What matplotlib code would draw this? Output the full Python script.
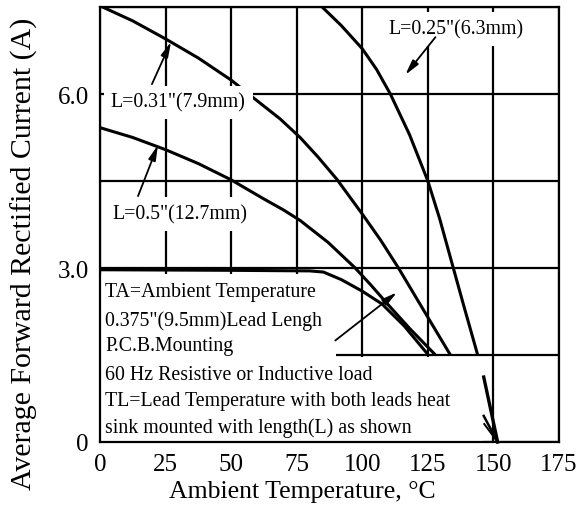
import matplotlib
matplotlib.use('Agg')
import matplotlib.pyplot as plt
from matplotlib.patches import Rectangle

plt.rcParams['font.family'] = ['Liberation Serif', 'DejaVu Serif']

# curves (x = ambient temp in C, y = current in A)
l025_x = [84.7, 92, 100, 105.5, 110.7, 118, 125.0, 129.5, 133.6, 138.5, 144.0]
l025_y = [7.5, 7.18, 6.78, 6.42, 6.0, 5.3, 4.5, 3.85, 3.18, 2.38, 1.5]

l031_x = [0, 12.5, 25, 37.5, 50, 60, 68.7, 76.3, 83, 90.3, 100, 107, 113.8, 125, 133.6]
l031_y = [7.52, 7.26, 6.95, 6.62, 6.24, 5.88, 5.57, 5.25, 4.92, 4.53, 3.93, 3.48, 3.0, 2.15, 1.5]

l05_x = [0, 12.5, 25, 37.5, 50, 62.5, 70, 76.3, 87, 97.3, 103, 110, 118, 127.9]
l05_y = [5.42, 5.25, 5.04, 4.8, 4.52, 4.19, 4.0, 3.82, 3.44, 3.0, 2.72, 2.36, 1.96, 1.5]

pcb_x = [0, 50, 80, 85.2, 92, 100, 107.5, 116, 125.2]
pcb_y = [2.97, 2.96, 2.95, 2.93, 2.8, 2.6, 2.38, 2.0, 1.5]

# short tails converging at 150 C below the note box
tail_x0 = [146.3, 146.3, 146.5]
tail_y0 = [1.12, 0.45, 0.31]
tail_end = (151.6, 0.0)

x_ticks = [0, 25, 50, 75, 100, 125, 150, 175]
y_ticks = [0, 1.5, 3.0, 4.5, 6.0, 7.5]
y_tick_labels = ['0', '', '3.0', '', '6.0', '']

note_lines = [
    'TA=Ambient Temperature',
    '0.375"(9.5mm)Lead Lengh',
    'P.C.B.Mounting',
    '60 Hz Resistive or Inductive load',
    'TL=Lead Temperature with both leads heat',
    'sink mounted with length(L) as shown',
]
note_y = [2.59, 2.10, 1.66, 1.16, 0.71, 0.26]


def main():
    fig = plt.figure(figsize=(5.79, 5.10), dpi=100)
    ax = fig.add_axes([100 / 579, 67 / 510, 459 / 579, 435 / 510])
    ax.set_xlim(0, 175)
    ax.set_ylim(0, 7.5)

    ax.set_xticks(x_ticks)
    ax.set_yticks(y_ticks)
    ax.set_yticklabels(y_tick_labels)
    ax.tick_params(length=0, labelsize=18, pad=8)
    ax.set_axisbelow(True)
    ax.grid(True, color='black', lw=1.6)
    for s in ax.spines.values():
        s.set_linewidth(1.6)

    # white areas that hide the grid behind the notes
    ax.add_patch(Rectangle((0, 0), 146.2, 1.46, fc='white', ec='none', zorder=1))
    ax.add_patch(Rectangle((0, 0), 90.1, 2.9, fc='white', ec='none', zorder=1))

    kw = dict(color='black', lw=2.2, zorder=2, solid_capstyle='butt',
              solid_joinstyle='round')
    ax.plot(l025_x, l025_y, **kw)
    ax.plot(l031_x, l031_y, **kw)
    ax.plot(l05_x, l05_y, **kw)
    ax.plot(pcb_x, pcb_y, **kw)
    for x0, y0, w in zip(tail_x0, tail_y0, [2.4, 1.8, 1.4]):
        ax.plot([x0, tail_end[0]], [y0, tail_end[1]], color='black', lw=w,
                zorder=2, clip_on=False)

    box = dict(fc='white', ec='none', pad=5)
    ax.text(29.8, 5.86, 'L=0.31"(7.9mm)', fontsize=14.3, ha='center',
            va='center', bbox=box, zorder=3)
    ax.text(30.5, 3.93, 'L=0.5"(12.7mm)', fontsize=14.3, ha='center',
            va='center', bbox=box, zorder=3)
    ax.text(135.9, 7.12, 'L=0.25"(6.3mm)', fontsize=14.3, ha='center',
            va='center', bbox=box, zorder=3)

    arrow = dict(arrowstyle='-|>,head_length=0.9,head_width=0.22',
                 color='black', lw=1.3, shrinkA=0, shrinkB=0)
    ax.annotate('', xy=(27.1, 6.9), xytext=(19.8, 6.17), arrowprops=arrow, zorder=4)
    ax.annotate('', xy=(22.1, 5.12), xytext=(14.5, 4.24), arrowprops=arrow, zorder=4)
    ax.annotate('', xy=(116.4, 6.33), xytext=(127.9, 6.98), arrowprops=arrow, zorder=4)
    ax.annotate('', xy=(113.2, 2.58), xytext=(89.7, 1.75), arrowprops=arrow, zorder=4)

    for line, y in zip(note_lines, note_y):
        ax.text(2, y, line, fontsize=14.3, va='center', ha='left', zorder=3)

    ax.set_xlabel('Ambient Temperature, \u00b0C', fontsize=18.5)
    ax.xaxis.set_label_coords(0.44, -0.088)
    ax.set_ylabel('Average Forward Rectified Current (A)', fontsize=21.5)
    ax.yaxis.set_label_coords(-0.136, 0.434)

    fig.savefig('out.png', dpi=100)


if __name__ == '__main__':
    main()
